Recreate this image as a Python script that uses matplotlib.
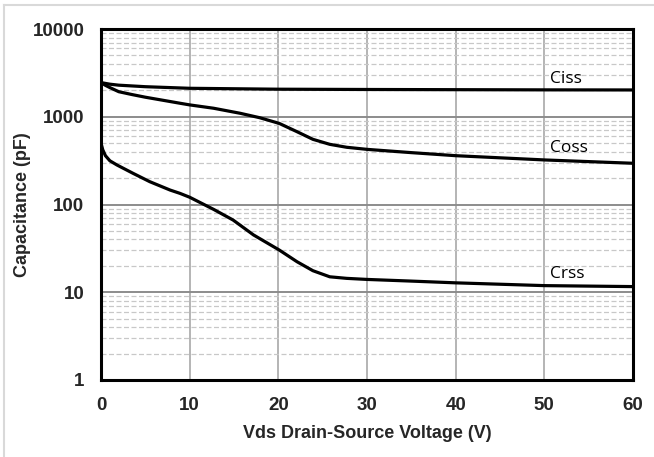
import matplotlib
matplotlib.use("Agg")
import matplotlib.pyplot as plt
from matplotlib.lines import Line2D

# Capacitance vs drain-source voltage (pF, log scale)
ciss_v = [0, 1, 2, 5, 10, 20, 30, 40, 50, 60]
ciss = [2450, 2350, 2290, 2200, 2110, 2060, 2045, 2035, 2025, 2020]

coss_v = [0, 0.5, 1, 2, 3.5, 5, 7, 9, 10, 12.7, 15.7, 17.9, 20.1, 22.1, 23.9, 25.8,
          27.7, 30, 35, 40, 50, 60]
coss = [2450, 2280, 2150, 1930, 1790, 1670, 1540, 1420, 1365, 1250, 1095, 975, 840, 676,
        553, 485, 449, 425, 390, 360, 322, 295]

crss_v = [0, 0.2, 0.5, 1.0, 1.8, 3.6, 5.5, 7.8, 8.9, 10, 12.7, 14.9, 17.2, 20.1, 22.1,
          23.9, 25.8, 27.7, 30, 35, 40, 50, 60]
crss = [500, 420, 360, 315, 282, 227, 182, 146, 134, 121, 88, 66.5, 45, 30.3, 22.3,
        17.6, 15.0, 14.4, 14.0, 13.4, 12.8, 11.9, 11.6]

x_ticks = [0, 10, 20, 30, 40, 50, 60]
y_ticks = [1, 10, 100, 1000, 10000]
series_labels = ["Ciss", "Coss", "Crss"]
label_pos = [(50.6, 2430), (50.6, 396), (50.6, 14.5)]

W, H = 654, 457
fig = plt.figure(figsize=(W / 100, H / 100), dpi=100)

# light frame around the figure
fig.add_artist(Line2D([4 / W, 4 / W], [0, 1 - 5 / H], color="#d9d9d9", lw=1.5))
fig.add_artist(Line2D([4 / W, 1], [1 - 5 / H, 1 - 5 / H], color="#d9d9d9", lw=1.5))

ax = fig.add_axes([101 / W, 1 - 380 / H, 532 / W, 351 / H])
ax.set_yscale("log")
ax.set_xlim(0, 60)
ax.set_ylim(1, 10000)

ax.set_xticks(x_ticks)
ax.set_xticklabels([str(t) for t in x_ticks])
ax.set_yticks(y_ticks)
ax.set_yticklabels([str(t) for t in y_ticks])
ax.yaxis.set_minor_locator(matplotlib.ticker.LogLocator(base=10, subs=range(2, 10)))
ax.yaxis.set_minor_formatter(matplotlib.ticker.NullFormatter())

for lab in ax.get_xticklabels() + ax.get_yticklabels():
    lab.set_fontfamily("Liberation Sans")
    lab.set_fontweight("bold")
    lab.set_fontsize(13.5)
    lab.set_color("#262626")
ax.tick_params(axis="x", which="both", length=0, pad=12)
ax.tick_params(axis="y", which="both", length=0, pad=12)

# grid
ax.grid(True, axis="x", which="major", color="#b4b4b4", lw=1.4)
ax.grid(True, axis="y", which="major", color="#8c8c8c", lw=1.4)
ax.grid(True, axis="y", which="minor", color="#c8c8c8", lw=0.9, ls=(0, (4, 2)))
ax.set_axisbelow(True)

for sp in ax.spines.values():
    sp.set_linewidth(2.2)
    sp.set_color("black")

for xv, yv in [(ciss_v, ciss), (coss_v, coss), (crss_v, crss)]:
    ax.plot(xv, yv, color="black", lw=2.3, solid_capstyle="round", solid_joinstyle="round")

for name, (px, py) in zip(series_labels, label_pos):
    ax.text(px, py, name, fontsize=12.5, family="Open Sans", color="black",
            ha="left", va="baseline")

fig.text(23 / W, 1 - 205 / H, "Capacitance (pF)", rotation=90, ha="center", va="center",
         fontsize=13, fontweight="bold", family="Liberation Sans", color="#262626")
fig.text(367 / W, 1 - 433 / H, "Vds Drain-Source Voltage (V)", ha="center", va="center",
         fontsize=13, fontweight="bold", family="Liberation Sans", color="#262626")

fig.savefig("out.png", dpi=100)
